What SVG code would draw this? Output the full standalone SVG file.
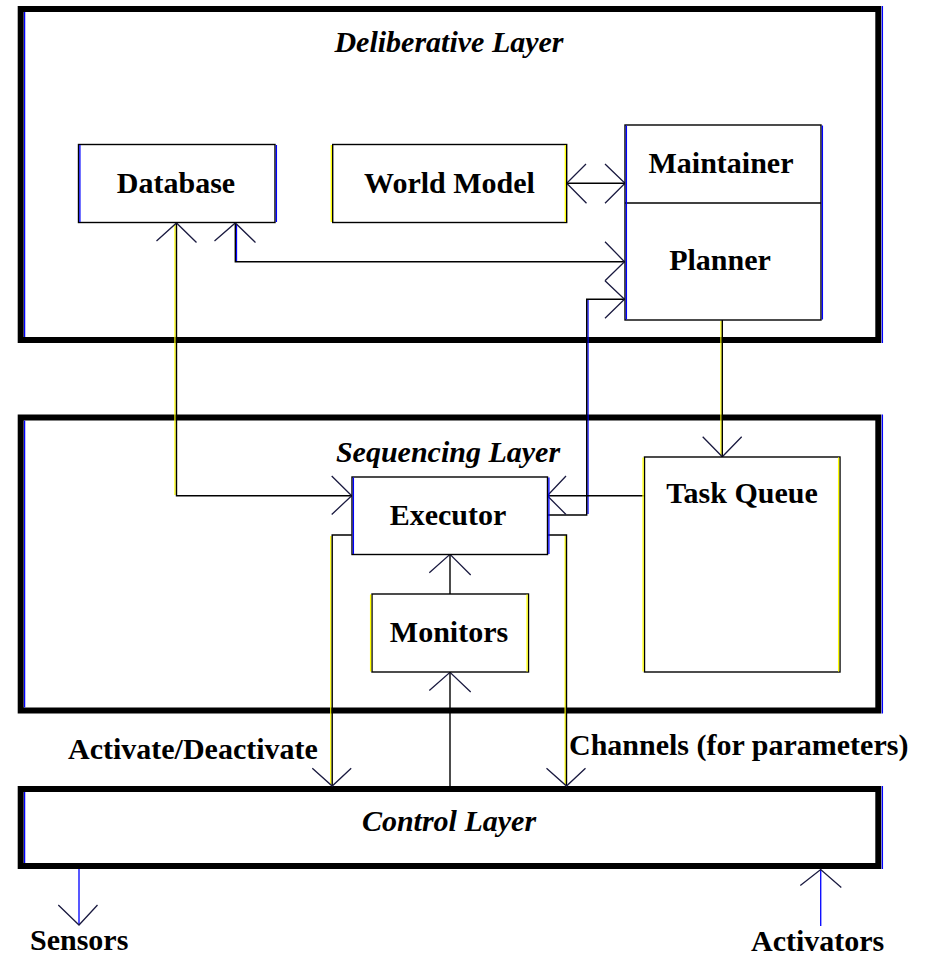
<svg xmlns="http://www.w3.org/2000/svg" width="926" height="957" viewBox="0 0 926 957">
  <style>
    .frame { fill: none; stroke: #000; stroke-width: 6; }
    .box { fill: #fff; stroke: #000; stroke-width: 1.4; }
    .line { fill: none; stroke: #000; stroke-width: 1.4; }
    .head { fill: none; stroke: #1a1a40; stroke-width: 1.3; }
    .yf { fill: none; stroke: #ffff00; stroke-width: 1.3; }
    .bf { fill: none; stroke: #0000ff; stroke-width: 1.3; }
    .blue { fill: none; stroke: #1010ff; stroke-width: 1.4; }
    .lbl { font-family: "Liberation Serif", "Times New Roman", serif; font-weight: bold; font-size: 30px; fill: #000; text-anchor: middle; }
    .layer { font-family: "Liberation Serif", "Times New Roman", serif; font-weight: bold; font-style: italic; font-size: 30px; fill: #000; text-anchor: middle; }
    .note { font-family: "Liberation Serif", "Times New Roman", serif; font-weight: bold; font-size: 30px; fill: #000; }
  </style>
  <rect width="926" height="957" fill="#fff"/>

  <!-- Layer frames -->
  <g id="deliberative-layer">
    <rect class="frame" x="20.7" y="9" width="857.6" height="331"/>
    <path class="bf" d="M24.6,12 V337 M882.4,6 V343"/>
    <text class="layer" x="449" y="52">Deliberative Layer</text>
  </g>
  <g id="sequencing-layer">
    <rect class="frame" x="20.7" y="417.5" width="857.6" height="293"/>
    <path class="bf" d="M24.6,420.5 V707.5 M882.4,414.5 V713.5"/>
    <text class="layer" x="448" y="462">Sequencing Layer</text>
  </g>
  <g id="control-layer">
    <rect class="frame" x="20.7" y="789" width="857.6" height="77"/>
    <path class="bf" d="M24.6,792 V863 M882.4,786 V869"/>
    <text class="layer" x="449" y="831">Control Layer</text>
  </g>

  <!-- Connectors -->
  <g id="connectors">
    <!-- Database <-> Executor -->
    <path class="yf" d="M175,224 V495"/>
    <path class="line" d="M176.5,223 V495.7 H351.7"/>
    <path class="head" d="M156.5,241 L176.5,223 L196.5,242.5 M331.7,476 L351.7,495.7 L331.7,514.5"/>
    <!-- Database <-> Planner -->
    <path class="bf" d="M236.5,224 V261"/>
    <path class="line" d="M235.3,223 V261.7 H624.5"/>
    <path class="head" d="M214.5,241 L235.3,223 L255.5,242.5 M605,241.7 L624.5,261.7 L605,280.7"/>
    <!-- World Model <-> Maintainer -->
    <path class="line" d="M566.7,183.3 H625"/>
    <path class="head" d="M586,164 L566.7,183.3 L586.5,203.3 M605,164 L625,183.3 L605,203.3"/>
    <!-- Executor -> Planner -->
    <path class="bf" d="M588,300 V514"/>
    <path class="line" d="M547.3,515 H586.7 V299.3 H624.5"/>
    <path class="head" d="M605,280.7 L624.5,299.3 L605,318.3"/>
    <!-- Planner -> Task Queue -->
    <path class="yf" d="M721,321 V456"/>
    <path class="line" d="M722.3,320 V456.7"/>
    <path class="head" d="M702.7,436.7 L722.3,456.7 L741.7,436.7"/>
    <!-- Task Queue -> Executor -->
    <path class="line" d="M644.3,495.7 H547.3"/>
    <path class="head" d="M566,476 L547.3,495.7 L566,514.5"/>
    <!-- Monitors -> Executor -->
    <path class="line" d="M450,594 V554.3"/>
    <path class="head" d="M429.3,572.7 L450,554.3 L470.7,575"/>
    <!-- Control Layer -> Monitors -->
    <path class="line" d="M450,786 V672.3"/>
    <path class="head" d="M429.3,690.5 L450,672.3 L470.7,692"/>
    <!-- Executor -> Control Layer (Activate/Deactivate) -->
    <path class="yf" d="M330.8,536 V785"/>
    <path class="line" d="M351.7,535 H332.2 V786"/>
    <path class="head" d="M312.3,768.3 L332.2,786 L351.2,768.3"/>
    <!-- Executor -> Control Layer (Channels) -->
    <path class="yf" d="M565.2,536 V785"/>
    <path class="line" d="M547.3,535 H566.5 V786"/>
    <path class="head" d="M546.5,768.3 L566.5,786 L585.5,768.3"/>
    <!-- Control Layer -> Sensors -->
    <path class="blue" d="M79,869 V925"/>
    <path class="head" d="M58.3,905 L79,925 L97.5,905"/>
    <!-- Activators -> Control Layer -->
    <path class="blue" d="M820.7,926 V869.5"/>
    <path class="head" d="M800.3,885.5 L820.7,869.5 L841.3,887.5"/>
  </g>

  <!-- Nodes -->
  <g id="database">
    <rect class="box" x="78.5" y="144.5" width="196.5" height="78"/>
    <path class="bf" d="M79.9,145 V222 M276.4,145 V222"/>
    <text class="lbl" x="176" y="193">Database</text>
  </g>
  <g id="world-model">
    <rect class="box" x="332.7" y="144.5" width="234" height="78"/>
    <path class="yf" d="M331.3,145 V222 M565.3,145 V222"/>
    <text class="lbl" x="449.5" y="193">World Model</text>
  </g>
  <g id="maintainer-planner">
    <rect class="box" x="625" y="125" width="196" height="195"/>
    <path class="line" d="M625,203 H821"/>
    <path class="bf" d="M626.4,125.5 V319.5 M822.4,125.5 V319.5"/>
    <text class="lbl" x="721" y="173">Maintainer</text>
    <text class="lbl" x="720" y="270">Planner</text>
  </g>
  <g id="executor">
    <rect class="box" x="352" y="477" width="195.5" height="77.5"/>
    <path class="bf" d="M353.4,477.5 V554 M548.9,477.5 V554"/>
    <text class="lbl" x="448" y="525">Executor</text>
  </g>
  <g id="monitors">
    <rect class="box" x="372" y="594" width="156.5" height="78"/>
    <path class="yf" d="M370.6,594.5 V671.5 M527.1,594.5 V671.5"/>
    <text class="lbl" x="449" y="642">Monitors</text>
  </g>
  <g id="task-queue">
    <rect class="box" x="644.5" y="457" width="195.5" height="215"/>
    <path class="yf" d="M643.1,457.5 V671.5 M838.6,457.5 V671.5"/>
    <text class="lbl" x="742" y="503">Task Queue</text>
  </g>

  <!-- Free labels -->
  <g id="labels">
    <text class="note" x="68" y="759">Activate/Deactivate</text>
    <text class="note" x="569" y="755">Channels (for parameters)</text>
    <text class="note" x="30" y="950">Sensors</text>
    <text class="note" x="751" y="951">Activators</text>
  </g>
</svg>
